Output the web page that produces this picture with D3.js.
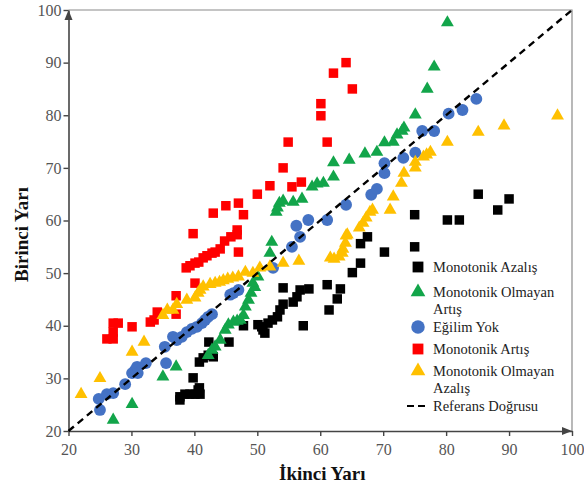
<!DOCTYPE html>
<html>
<head>
<meta charset="utf-8">
<script src="https://cdnjs.cloudflare.com/ajax/libs/d3/7.8.5/d3.min.js"></script>
<style>
  body { margin: 0; background: #fff; }
  svg text { font-family: "Liberation Serif", "DejaVu Serif", serif; }
</style>
</head>
<body>
<svg id="chart" width="584" height="490"></svg>
<script>
// values: [İkinci Yarı, Birinci Yarı]
const monotonikAzalis = [[37.7,26.5],[37.7,25.9],[38.5,27],[39.3,27],[40.1,27],[40.6,27.8],[40.9,27],[39.8,30.1],
  [40.8,28.2],[40.8,33.1],[41.4,33.9],[42.2,34.4],[43,34.1],[42.3,36.9],[45.5,36.9],[47.8,40],[50.1,40.2],[50.7,39.8],
  [50.9,39.2],[51.2,38.6],[51.7,40.5],[52.4,41.1],[53.2,41.7],[53.6,43],[54.1,44.1],[54.1,47.2],[55.7,44.5],[56.3,45.5],
  [56.8,46.8],[58.2,47],[57.3,40],[61.1,47.8],[61.4,43],[62.7,45.1],[63.2,47],[65.1,50.1],[66.4,51.9],[66.4,55.6],
  [67.5,56.9],[70.2,54],[75,61.1],[75,55],[80.2,60.1],[82.1,60.1],[85.1,65],[88.2,62],[90,64.1]];

const monotonikOlmayanArtis = [[27.1,22.1],[30.1,25.1],[35,30.3],[37.1,32.2],[42.2,34.4],[42.8,35.4],[43.3,36],[44.1,37.3],
  [44.9,39.2],[45.4,40.2],[46.2,40.7],[46.8,40.9],[47.3,41.1],[47.8,42],[48.1,43.6],[48.6,44.9],[49,46.2],[49.6,47.3],
  [49.3,48.1],[50.1,49.3],[52,53.8],[52.3,55.9],[53,61.6],[53.2,62.4],[53.5,63.3],[54.1,63.7],[55.7,63.5],[57.1,64.1],
  [58.7,66.4],[59.5,67],[60.5,67.1],[62.1,68.3],[62.1,71],[64.6,71.5],[67.1,72.7],[69,73],[70.2,74.8],[71.6,74.9],
  [72.2,76.3],[73,77],[73.3,77.6],[75.1,80.1],[77,85],[78.1,89.2],[80.2,97.6]];

const egilimYok = [[24.8,26.1],[25,24],[26.1,27],[27.1,27.2],[29,28.9],[30.1,31],[30.6,31.6],[30.9,32.2],[31,31],
  [32.3,32.9],[35.3,36],[35.5,32.9],[36.6,37.9],[37.2,37.3],[38,37.9],[38.8,38.8],[39.6,39.4],[40.4,39.8],[41.2,40.5],
  [41.7,41.1],[42.2,41.7],[42.8,42.2],[45.7,45.9],[46.2,46.2],[47,46.8],[52.5,51],[55.5,55],[56.8,56.9],[56.2,59],
  [58.1,60.1],[61.1,60.1],[64.1,63],[68.1,64.9],[69,66],[70.2,69],[70.2,70.9],[73.2,71.9],[75.1,72.9],[76.2,77],
  [78.1,77],[80.4,80.3],[82.6,81],[84.8,83.1]];

const monotonikArtis = [[26.1,37.5],[27.1,37.5],[27.1,38.8],[27.1,40.5],[27.9,40.5],[30.1,39.8],[33,40.7],[33.6,41.1],
  [34.1,42.6],[37.1,42.2],[37.1,45.7],[40.1,48.1],[38.7,51],[39.3,51.4],[40.1,51.9],[40.7,52.1],[41.4,52.9],[42,53.3],
  [42.8,53.8],[43.3,54],[44.1,54.6],[47,54],[39.8,57.5],[43,61.4],[45,62.8],[47,63.3],[47.8,61.1],[44.8,56.1],
  [45.8,56.9],[46.8,57.3],[46.8,58.2],[50,65],[52,66.6],[54.1,70],[54.9,74.9],[55.5,66.4],[57,67.3],[60.1,82.2],
  [60.1,79.9],[61.1,74.9],[62.1,88],[64.1,90],[65.1,85]];

const monotonikOlmayanAzalis = [[22,27],[25,30],[30.1,35],[32,36.9],[35,42],[35.7,43],[36.6,43],[37.2,44.1],[38.8,44.9],
  [40.1,45.3],[40.6,46.2],[40.9,46.8],[41.4,47.4],[42.5,47.9],[43.3,48.1],[44,48.3],[44.6,48.6],[45.3,48.9],[46.1,49.1],
  [47,49.3],[48.1,50.2],[49.3,50],[50.4,51],[52,51.2],[54.1,51.9],[56.6,52.3],[61.6,52.9],[62.2,52.7],[63,53.1],
  [63.5,53.8],[63.6,54.6],[64,55.7],[64.1,57.1],[64.3,57.3],[66.2,58.6],[66.8,59.5],[67.3,60.5],[67.9,61.6],[68.3,62],
  [71.1,62],[71.6,64.5],[72.9,67.1],[73.3,69],[75.1,70],[75.1,71.1],[76.4,72.1],[76.9,72.5],[77.5,73],[80.2,74.9],
  [85.1,76.8],[89.2,78],[97.7,79.9]];

const referansDogrusu = [[20,20],[100,100]];

const seriesNames = ["Monotonik Azalış", "Monotonik Olmayan Artış", "Eğilim Yok", "Monotonik Artış", "Monotonik Olmayan Azalış"];
const legendLines = [["Monotonik Azalış"], ["Monotonik Olmayan", "Artış"], ["Eğilim Yok"], ["Monotonik Artış"],
  ["Monotonik Olmayan", "Azalış"]];
const refName = "Referans Doğrusu";
const xTicks = [20, 30, 40, 50, 60, 70, 80, 90, 100];
const yTicks = [20, 30, 40, 50, 60, 70, 80, 90, 100];

const seriesData = [monotonikAzalis, monotonikOlmayanArtis, egilimYok, monotonikArtis, monotonikOlmayanAzalis];
const colors = ["#000000", "#12a54a", "#4472c4", "#ff0000", "#ffc000"];
const shapes = [d3.symbolSquare, d3.symbolTriangle, d3.symbolCircle, d3.symbolSquare, d3.symbolTriangle];
const sizes = [90, 72, 110, 90, 72];
const serif = "Liberation Serif, DejaVu Serif, serif";

const svg = d3.select("#chart"),
      margin = { top: 10, right: 12, bottom: 59, left: 68.5 },
      width = +svg.attr("width") - margin.left - margin.right,
      height = +svg.attr("height") - margin.top - margin.bottom,
      chart = svg.append("g").attr("transform", `translate(${margin.left},${margin.top})`);

const x = d3.scaleLinear().domain([20, 100]).range([0, width]);
const y = d3.scaleLinear().domain([20, 100]).range([height, 0]);

// frame (top and right)
chart.append("path")
  .attr("d", `M0,0H${width}V${height}`)
  .attr("fill", "none")
  .attr("stroke", "#8a8a8a")
  .attr("stroke-width", 1.2);

// axes
const xAxis = chart.append("g")
  .attr("transform", `translate(0,${height})`)
  .call(d3.axisBottom(x).tickValues(xTicks).tickSize(5).tickSizeOuter(0));
const yAxis = chart.append("g")
  .call(d3.axisLeft(y).tickValues(yTicks).tickSize(5).tickSizeOuter(0));

[xAxis, yAxis].forEach(ax => {
  ax.attr("font-family", serif);
  ax.select(".domain").attr("stroke", "#444").attr("stroke-width", 1.6);
  ax.selectAll(".tick line").attr("stroke", "#444").attr("stroke-width", 1.4);
  ax.selectAll(".tick text")
    .attr("fill", "#555")
    .attr("font-size", "16px");
});
xAxis.selectAll(".tick text").attr("dy", "1.0em");
yAxis.selectAll(".tick text").attr("x", -7);

// axis arrows
chart.append("path")
  .attr("d", `M0,0L-4,10L4,10Z`)
  .attr("fill", "#444");
chart.append("path")
  .attr("d", `M${width},${height}L${width - 10},${height - 4}L${width - 10},${height + 4}Z`)
  .attr("fill", "#444");

// axis titles
svg.append("text")
  .attr("transform", `translate(28,${margin.top + height / 2 + 14}) rotate(-90)`)
  .attr("text-anchor", "middle")
  .attr("font-size", "19px")
  .attr("font-weight", "bold")
  .attr("fill", "#111")
  .text("Birinci Yarı");

svg.append("text")
  .attr("x", margin.left + width / 2 + 2)
  .attr("y", 480)
  .attr("text-anchor", "middle")
  .attr("font-size", "19px")
  .attr("font-weight", "bold")
  .attr("fill", "#111")
  .text("İkinci Yarı");

// points
seriesData.forEach((data, i) => {
  chart.append("g")
    .selectAll("path")
    .data(data)
    .join("path")
    .attr("transform", d => `translate(${x(d[0])},${y(d[1])})`)
    .attr("d", d3.symbol().type(shapes[i]).size(sizes[i]))
    .attr("fill", colors[i]);
});

// reference line
chart.append("path")
  .datum(referansDogrusu)
  .attr("d", d3.line().x(d => x(d[0])).y(d => y(d[1])))
  .attr("fill", "none")
  .attr("stroke", "#000")
  .attr("stroke-width", 2.4)
  .attr("stroke-dasharray", "7,5");

// legend
const legendY = [267, 292, 327, 349, 371];
const legend = svg.append("g").attr("font-family", serif);
seriesNames.forEach((name, i) => {
  legend.append("path")
    .attr("transform", `translate(418,${legendY[i]})`)
    .attr("d", d3.symbol().type(shapes[i]).size(sizes[i] * 1.3))
    .attr("fill", colors[i]);
  legend.append("text")
    .attr("x", 433)
    .attr("y", legendY[i] + 5)
    .attr("font-size", "14.5px")
    .attr("fill", "#222")
    .selectAll("tspan")
    .data(legendLines[i])
    .join("tspan")
    .attr("x", 433)
    .attr("dy", (d, j) => j === 0 ? 0 : 16.5)
    .text(d => d);
});
legend.append("line")
  .attr("x1", 407).attr("x2", 428)
  .attr("y1", 406).attr("y2", 406)
  .attr("stroke", "#000")
  .attr("stroke-width", 2)
  .attr("stroke-dasharray", "7,4");
legend.append("text")
  .attr("x", 433)
  .attr("y", 411)
  .attr("font-size", "14.5px")
  .attr("fill", "#222")
  .text(refName);
</script>
</body>
</html>
